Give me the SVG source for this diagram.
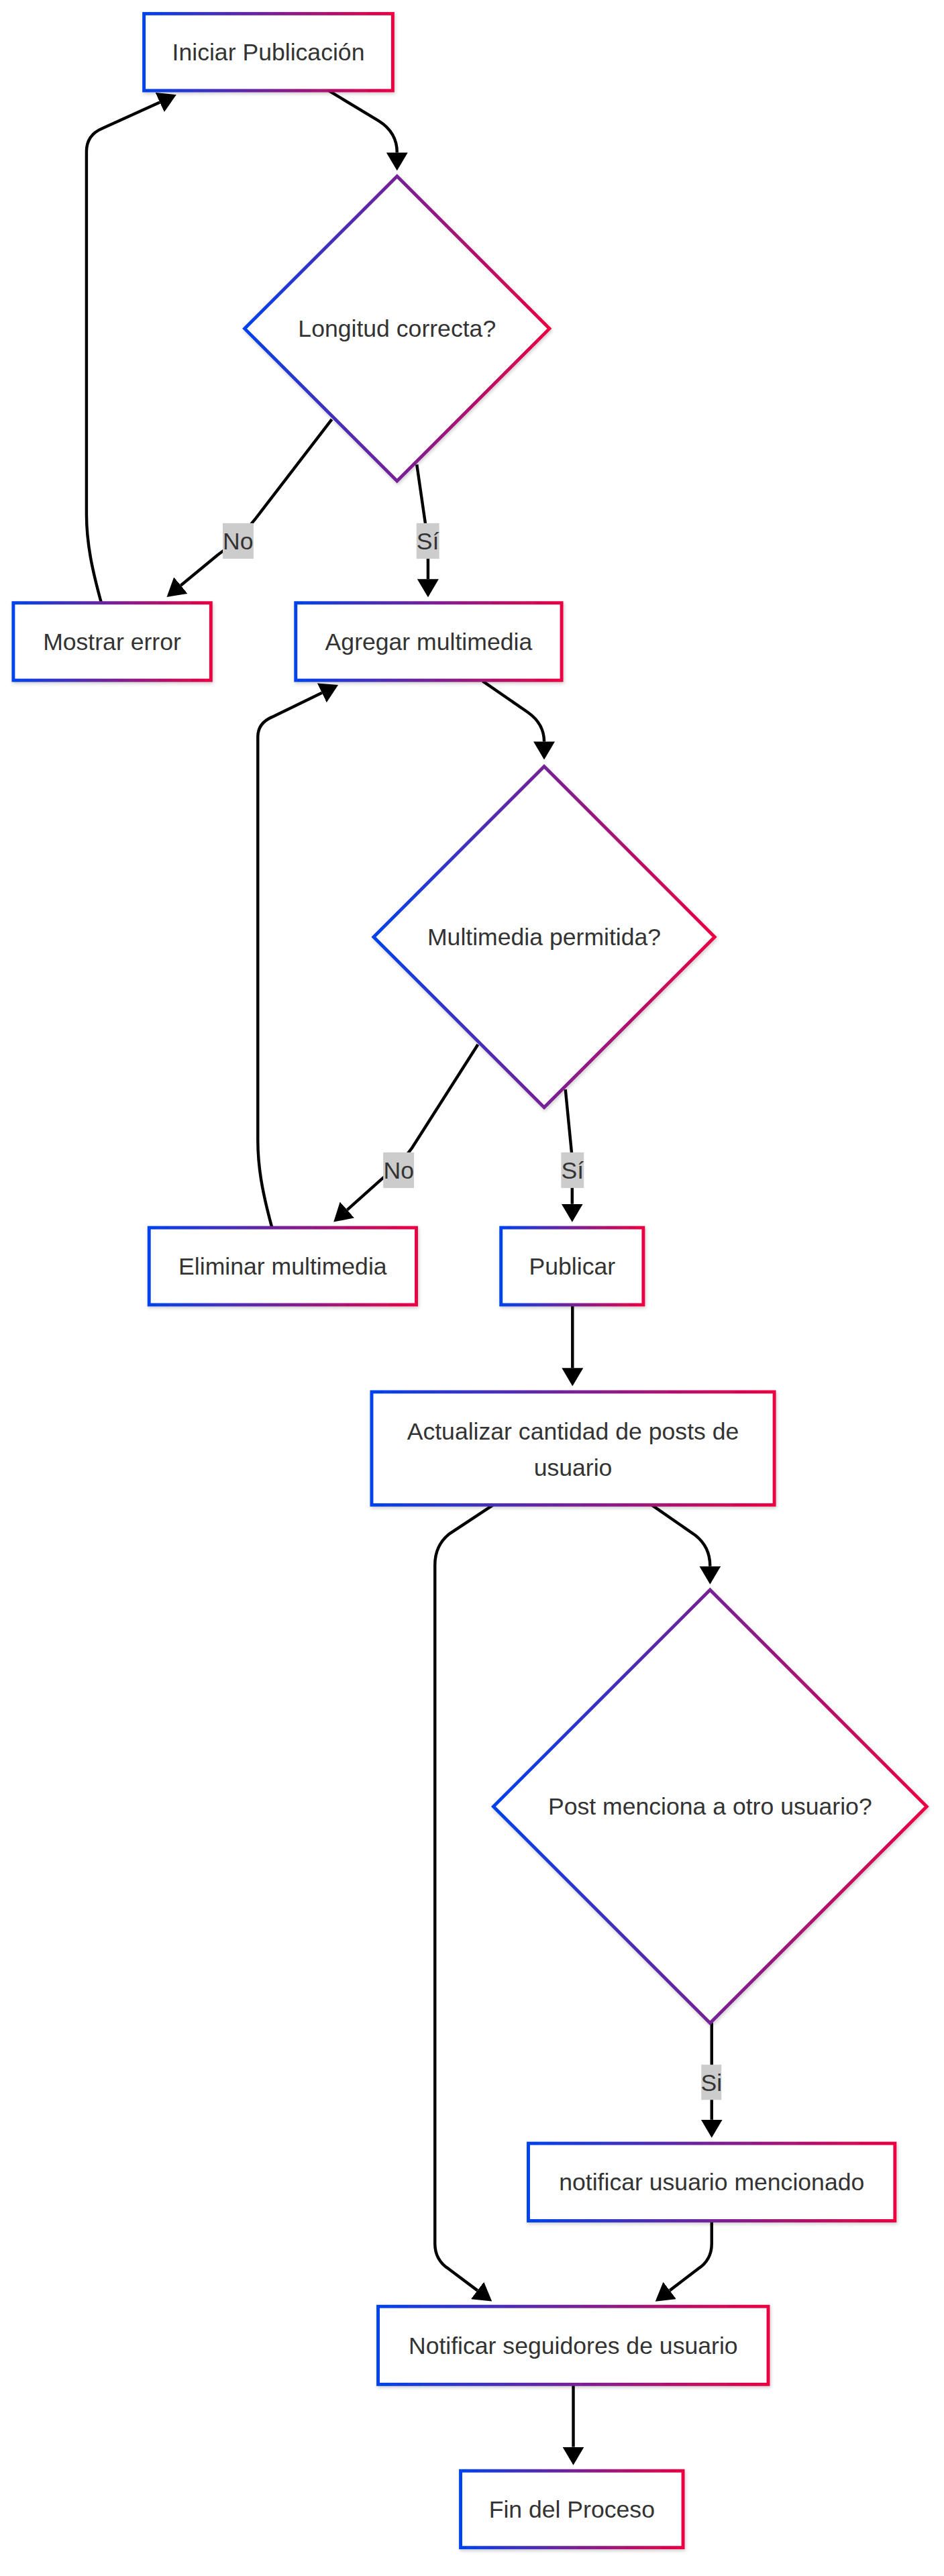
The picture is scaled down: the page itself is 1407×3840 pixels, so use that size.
<svg xmlns="http://www.w3.org/2000/svg" width="1407" height="3840" viewBox="0 0 1407 3840">
<defs>
<linearGradient id="grad" x1="0" y1="0" x2="1" y2="0">
<stop offset="0" stop-color="#0042eb"/>
<stop offset="1" stop-color="#eb0042"/>
</linearGradient>
<filter id="sh" x="-10%" y="-10%" width="120%" height="130%">
<feDropShadow dx="0.5" dy="1" stdDeviation="1" flood-color="#000" flood-opacity="0.2"/>
</filter>
<marker id="arr" markerUnits="userSpaceOnUse" markerWidth="11" markerHeight="13" refX="0" refY="6.5" orient="auto" viewBox="0 0 11 13">
<path d="M0,0 L11,6.5 L0,13 z" fill="#000"/>
</marker>
<style>
.node rect, .node polygon { fill: #fff; stroke: url(#grad); stroke-width: 2; filter: url(#sh); }
.node text, .lbl text { font-family: "Liberation Sans", Arial, sans-serif; font-size: 14.5px; fill: #333; text-anchor: middle; }
.edge { fill: none; stroke: #000; stroke-width: 1.8; marker-end: url(#arr); }
.lbl rect { fill: #ccc; }
</style>
</defs>
<rect x="0" y="0" width="1407" height="3840" fill="#fff"/>
<g transform="scale(2.4555)">
<g id="edges">
<path class="edge" d="M199.5,55 L230,73.5 Q241,80.5 241,92.6"/>
<path class="edge" d="M201.4,254.6 L155,315 Q145,328 132,337 L109.7,355.4"/>
<path class="edge" d="M253,282 L258.5,320 L259.8,335 L259.8,351.6"/>
<path class="edge" d="M61.5,366 C56,346 52.5,330 52.5,312 L52.5,92 Q52.5,82 62,78 L97,62.1"/>
<path class="edge" d="M293,413.5 L320.5,432.5 Q330.3,439.5 330.3,450.2"/>
<path class="edge" d="M290.1,634.1 L250,697 Q243,707 232,715.5 L210.7,734.5"/>
<path class="edge" d="M343.2,661.4 L347,700 L347.3,712 L347.3,730.9"/>
<path class="edge" d="M165.1,745.3 C159,723 156.5,708 156.5,692 L156.5,447.4 Q156.5,439 165.1,435.3 L195.4,420.6"/>
<path class="edge" d="M347.5,792.1 L347.5,830.5"/>
<path class="edge" d="M395.4,913.5 L422,932 Q431,939 431,950.8"/>
<path class="edge" d="M299.5,913.5 L273,931 Q264,938 264,950 L264,1362 Q264,1372 272.5,1377.5 L289.8,1390.5"/>
<path class="edge" d="M432,1228 L432,1286.8"/>
<path class="edge" d="M432,1348.2 L432,1362 Q432,1372 423.5,1377.5 L406.5,1390.5"/>
<path class="edge" d="M348,1447.5 L348,1485.5"/>
<g class="lbl"><rect x="135.2" y="317.6" width="18.7" height="21.6"/><text x="144.5" y="333.5">No</text></g>
<g class="lbl"><rect x="252.8" y="317.6" width="13.8" height="21.6"/><text x="259.7" y="333.5">Sí</text></g>
<g class="lbl"><rect x="232.6" y="699.6" width="18.7" height="21.6"/><text x="242" y="715.5">No</text></g>
<g class="lbl"><rect x="340.6" y="699.6" width="13.8" height="21.6"/><text x="347.5" y="715.5">Sí</text></g>
<g class="lbl"><rect x="425.7" y="1253.4" width="12.2" height="21.4"/><text x="431.8" y="1269.2">Si</text></g>
</g>
<g id="n1" class="node"><rect x="87.4" y="8.3" width="151" height="46.7"/><text x="162.9" y="36.8">Iniciar Publicación</text></g>
<g id="n2" class="node"><polygon points="241,107 333.5,199.5 241,292 148.5,199.5"/><text x="241" y="204.6">Longitud correcta?</text></g>
<g id="n3" class="node"><rect x="8.1" y="366" width="119.9" height="47"/><text x="68" y="394.6">Mostrar error</text></g>
<g id="n4" class="node"><rect x="179.5" y="366" width="161.4" height="47"/><text x="260.2" y="394.6">Agregar multimedia</text></g>
<g id="n5" class="node"><polygon points="330.3,465.3 433.8,568.8 330.3,672.3 226.8,568.8"/><text x="330.3" y="573.9">Multimedia permitida?</text></g>
<g id="n6" class="node"><rect x="90.5" y="745.3" width="162.2" height="46.8"/><text x="171.6" y="773.8">Eliminar multimedia</text></g>
<g id="n7" class="node"><rect x="304.1" y="745.3" width="86.4" height="46.8"/><text x="347.3" y="773.8">Publicar</text></g>
<g id="n8" class="node"><rect x="225.6" y="845" width="244.4" height="68.6"/><text x="347.8" y="874.1">Actualizar cantidad de posts de</text><text x="347.8" y="896.1">usuario</text></g>
<g id="n9" class="node"><polygon points="431,965.2 562.5,1096.7 431,1228.2 299.5,1096.7"/><text x="431" y="1101.8">Post menciona a otro usuario?</text></g>
<g id="n10" class="node"><rect x="320.7" y="1301.2" width="222.5" height="47"/><text x="432" y="1329.8">notificar usuario mencionado</text></g>
<g id="n11" class="node"><rect x="229.5" y="1400.2" width="236.8" height="47.3"/><text x="347.9" y="1428.9">Notificar seguidores de usuario</text></g>
<g id="n12" class="node"><rect x="279.6" y="1500" width="135" height="46.6"/><text x="347.1" y="1528.4">Fin del Proceso</text></g>
</g>
</svg>
